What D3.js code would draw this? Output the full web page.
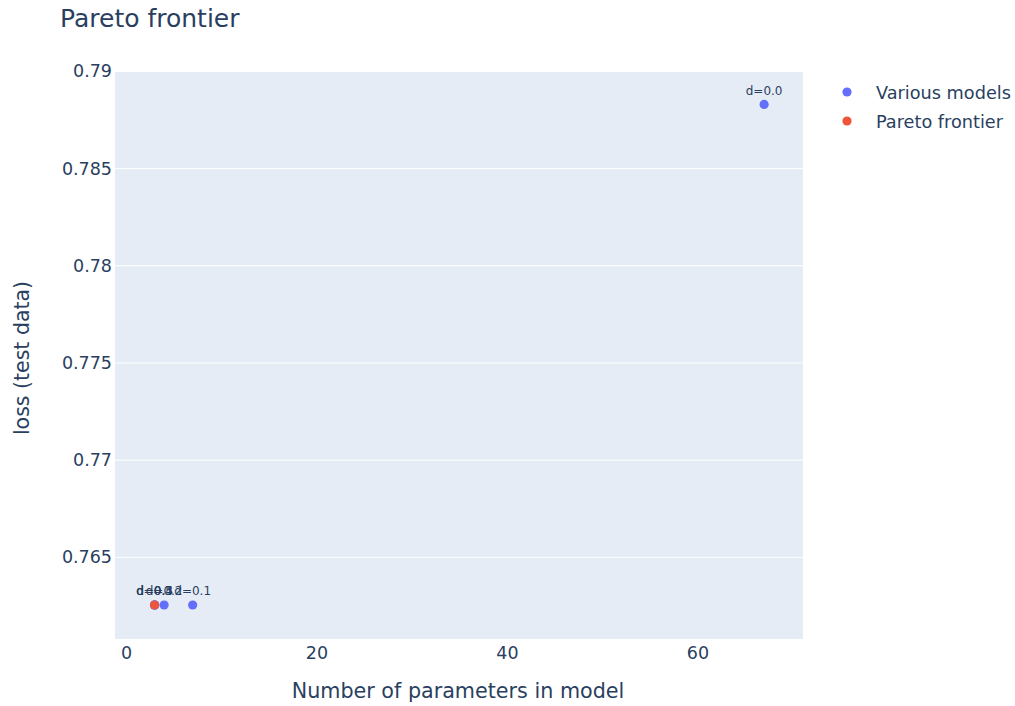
<!DOCTYPE html>
<html>
<head>
<meta charset="utf-8">
<script src="https://cdn.jsdelivr.net/npm/d3@7"></script>
<style>
  body { margin: 0; background: #fff; }
  svg { display: block; font-family: "DejaVu Sans", Verdana, sans-serif; }
</style>
</head>
<body>
<svg id="chart" width="1015" height="706"></svg>
<script>
// Models evaluated: parameter count, test loss, dropout label
const modelParams = [67, 7, 4, 3, 3, 3];
const modelLoss = [0.7883, 0.76255, 0.76255, 0.76255, 0.76255, 0.76255];
const modelLabels = ["d=0.0", "d=0.1", "d=0.2", "d=0.3", "d=0.4", "d=0.5"];

// Points on the Pareto frontier
const paretoParams = [3];
const paretoLoss = [0.76255];

const xTicks = [0, 20, 40, 60];
const yTicks = [0.765, 0.77, 0.775, 0.78, 0.785, 0.79];
const xDomain = [-1.155, 71.08];
const yDomain = [0.7608, 0.79002];

const seriesNames = ["Various models", "Pareto frontier"];
const seriesColors = ["#636efa", "#EF553B"];

const plot = { left: 115, right: 803, top: 71, bottom: 639 };
const ink = "#2a3f5f";

const svg = d3.select("#chart");

const x = d3.scaleLinear().domain(xDomain).range([plot.left, plot.right]);
const y = d3.scaleLinear().domain(yDomain).range([plot.bottom, plot.top]);

// plot background
svg.append("rect")
  .attr("x", plot.left).attr("y", plot.top)
  .attr("width", plot.right - plot.left).attr("height", plot.bottom - plot.top)
  .attr("fill", "#E5ECF6");

// horizontal grid
svg.append("g")
  .selectAll("line")
  .data(yTicks)
  .join("line")
  .attr("x1", plot.left).attr("x2", plot.right)
  .attr("y1", d => y(d)).attr("y2", d => y(d))
  .attr("stroke", "#fff").attr("stroke-width", 1);

// y axis
const yAxis = svg.append("g")
  .attr("transform", `translate(${plot.left},0)`)
  .call(d3.axisLeft(y).tickValues(yTicks).tickFormat(d3.format("")).tickSize(0).tickPadding(3));
yAxis.select(".domain").remove();
yAxis.selectAll("text").attr("fill", ink).attr("font-size", 17.5)
  .attr("font-family", "DejaVu Sans, Verdana, sans-serif");

// x axis
const xAxis = svg.append("g")
  .attr("transform", `translate(0,${plot.bottom})`)
  .call(d3.axisBottom(x).tickValues(xTicks).tickSize(0).tickPadding(8));
xAxis.select(".domain").remove();
xAxis.selectAll("text").attr("fill", ink).attr("font-size", 17.5)
  .attr("font-family", "DejaVu Sans, Verdana, sans-serif");

// axis titles
svg.append("text")
  .attr("x", (plot.left + plot.right) / 2 - 1).attr("y", 698)
  .attr("text-anchor", "middle").attr("fill", ink).attr("font-size", 20.7)
  .text("Number of parameters in model");

svg.append("text")
  .attr("transform", `translate(29,${(plot.top + plot.bottom) / 2 + 3}) rotate(-90)`)
  .attr("text-anchor", "middle").attr("fill", ink).attr("font-size", 20.5)
  .text("loss (test data)");

// chart title
svg.append("text")
  .attr("x", 60).attr("y", 27)
  .attr("fill", ink).attr("font-size", 25)
  .text("Pareto frontier");

// model points and labels
const models = modelParams.map((p, i) => ({ p, l: modelLoss[i], label: modelLabels[i] }));
const gModels = svg.append("g");
gModels.selectAll("circle")
  .data(models)
  .join("circle")
  .attr("cx", d => x(d.p)).attr("cy", d => y(d.l))
  .attr("r", 4.6).attr("fill", seriesColors[0]);
gModels.selectAll("text")
  .data(models)
  .join("text")
  .attr("x", d => x(d.p)).attr("y", d => y(d.l) - 9.5)
  .attr("text-anchor", "middle").attr("fill", ink).attr("font-size", 12)
  .text(d => d.label);

// Pareto frontier points
svg.append("g")
  .selectAll("circle")
  .data(paretoParams.map((p, i) => ({ p, l: paretoLoss[i] })))
  .join("circle")
  .attr("cx", d => x(d.p)).attr("cy", d => y(d.l))
  .attr("r", 4.6).attr("fill", seriesColors[1]);

// legend
const legend = svg.append("g");
seriesNames.forEach((name, i) => {
  const cy = 92 + i * 29;
  legend.append("circle").attr("cx", 847).attr("cy", cy).attr("r", 4.6).attr("fill", seriesColors[i]);
  legend.append("text").attr("x", 876).attr("y", cy + 6.5)
    .attr("fill", ink).attr("font-size", 17.7).text(name);
});
</script>
</body>
</html>
